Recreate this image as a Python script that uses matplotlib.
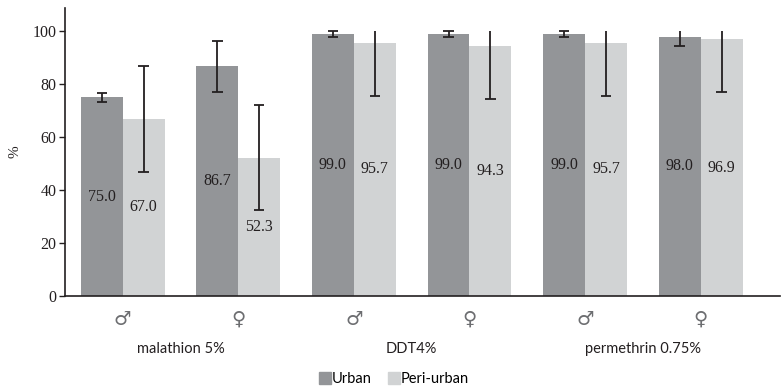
import matplotlib
matplotlib.use("Agg")
import matplotlib.pyplot as plt
import numpy as np
from matplotlib.lines import Line2D
from matplotlib.transforms import blended_transform_factory

groups = ["malathion 5%", "DDT4%", "permethrin 0.75%"]
sexes = ["\u2642", "\u2640", "\u2642", "\u2640", "\u2642", "\u2640"]
urban = [75.0, 86.7, 99.0, 99.0, 99.0, 98.0]
peri_urban = [67.0, 52.3, 95.7, 94.3, 95.7, 96.9]
urban_err = [1.8, 9.7, 1.0, 1.0, 1.0, 3.6]
peri_err = [20.0, 20.0, 20.0, 20.0, 20.0, 20.0]

dark = "#939598"
light = "#d1d3d4"
ink = "#231f20"
num_font = "Liberation Serif"
txt_font = "Lato"

fig = plt.figure(figsize=(7.82, 3.89), dpi=100)
ax = fig.add_axes([0.083, 0.239, 0.915, 0.74])

x = np.arange(len(urban))
w = 0.363


def draw_errors(xs, vals, errs):
    for xi, v, e in zip(xs, vals, errs):
        top = min(v + e, 100)
        bot = v - e
        ax.vlines(xi, bot, top, color=ink, lw=1.3, zorder=3)
        ax.hlines(bot, xi - 0.045, xi + 0.045, color=ink, lw=1.3, zorder=3)
        if v + e <= 100:
            ax.hlines(top, xi - 0.045, xi + 0.045, color=ink, lw=1.3, zorder=3)


ax.bar(x - w / 2, urban, w, color=dark, label="Urban", zorder=2)
ax.bar(x + w / 2, peri_urban, w, color=light, label="Peri-urban", zorder=2)
draw_errors(x - w / 2, urban, urban_err)
draw_errors(x + w / 2, peri_urban, peri_err)

for xi, v in zip(x - w / 2, urban):
    ax.text(xi, v / 2, f"{v:.1f}", ha="center", va="center",
            fontsize=11.5, family=num_font, color=ink, zorder=4)
for xi, v in zip(x + w / 2, peri_urban):
    ax.text(xi, v / 2, f"{v:.1f}", ha="center", va="center",
            fontsize=11.5, family=num_font, color=ink, zorder=4)

ax.set_xlim(-0.5, 5.69)
ax.set_ylim(0, 108.7)
ax.set_yticks([0, 20, 40, 60, 80, 100])
ax.set_yticklabels([str(t) for t in [0, 20, 40, 60, 80, 100]],
                   family=num_font, fontsize=11.5, color=ink)
ax.tick_params(axis="y", length=4, width=1, color=ink, pad=2)
ax.set_xticks(x)
ax.set_xticklabels(sexes, fontsize=14, color="#6d6e71")
ax.tick_params(axis="x", length=0, pad=10)

for s in ["top", "right"]:
    ax.spines[s].set_visible(False)
ax.spines["left"].set_color(ink)
ax.spines["bottom"].set_color(ink)
ax.spines["left"].set_linewidth(1.2)
ax.spines["bottom"].set_linewidth(1.2)

ax.set_ylabel("%", family=num_font, fontsize=11, color=ink, labelpad=8)

trans = blended_transform_factory(ax.transData, ax.transAxes)
for i, g in enumerate(groups):
    ax.text(2 * i + 0.5, -0.184, g, transform=trans, ha="center", va="center",
            fontsize=10.5, family=txt_font, color=ink)

handles = [Line2D([], [], marker="s", ls="", color=dark, markersize=8),
           Line2D([], [], marker="s", ls="", color=light, markersize=8)]
fig.legend(handles, ["Urban", "Peri-urban"], loc="center",
           bbox_to_anchor=(0.503, 0.025), ncol=2, frameon=False,
           prop={"family": txt_font, "size": 10.5}, handletextpad=0.0,
           columnspacing=1.0, handlelength=1.0)

fig.savefig("out.png", dpi=100)
